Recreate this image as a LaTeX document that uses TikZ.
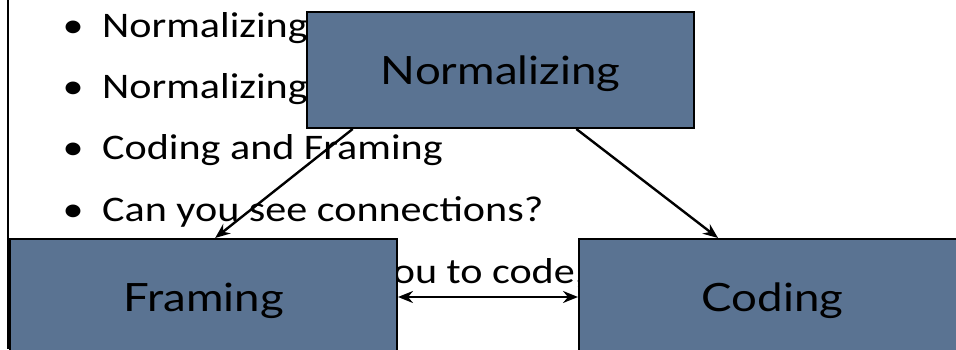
\documentclass[tikz,border=0pt]{standalone}
\usepackage{fontspec}
\usetikzlibrary{calc,arrows.meta}
\newfontfamily\bulletfont[FakeStretch=1.17]{Carlito}
\newfontfamily\boxfont[FakeStretch=1.17]{Lato}
\definecolor{ink}{HTML}{000000}
\definecolor{slateblue}{HTML}{5A7392}
\newcommand{\Body}{\bulletfont\fontsize{36}{40}\selectfont}
\newcommand{\Head}{\boxfont\fontsize{39}{44}\selectfont}

\begin{document}
\begin{tikzpicture}[x=1pt,y=1pt, font=\Body, text=ink,
    box/.style={draw=ink, line width=2pt, fill=slateblue, minimum width=387pt,
      minimum height=116pt, inner sep=0pt, text depth=0pt, font=\Head},
    link/.style={draw=ink, line width=2.4pt, -{Stealth[length=15pt,width=12pt,inset=5pt]}}]
  \useasboundingbox (0,0) rectangle (956,349);
  \draw[ink, line width=2pt] (7.5,349) -- (7.5,0);
  % bullet list (partly hidden by the boxes)
  \foreach \i/\y/\t in {1/311/Normalizing, 2/251/Normalizing, 3/190/Coding and Framing, 4/128/Can you see connections?}{
    \node[anchor=base, inner sep=0pt] (dot\i) at (73,\y){\textbullet};
    \node[anchor=base west, inner sep=0pt] (line\i) at (102,\y){\t};}
  \node[anchor=base west, inner sep=0pt] (line5) at (374,66){you to code,};
  % boxes
  \node[box] (norm) at (500.5,279){Normalizing};
  \node[box] (fram) at (203.5,52){Framing};
  \node[box] (cod) at (772.5,52){Coding};
  \draw[link] ($(norm.south west)!0.12!(norm.south east)$) -- ($(fram.north west)!0.53!(fram.north east)$);
  \draw[link] ($(norm.south west)!0.695!(norm.south east)$) -- ($(cod.north west)!0.36!(cod.north east)$);
  \draw[link, {Stealth[length=15pt,width=12pt,inset=5pt]}-{Stealth[length=15pt,width=12pt,inset=5pt]}] (fram) -- (cod);
\end{tikzpicture}
\end{document}
